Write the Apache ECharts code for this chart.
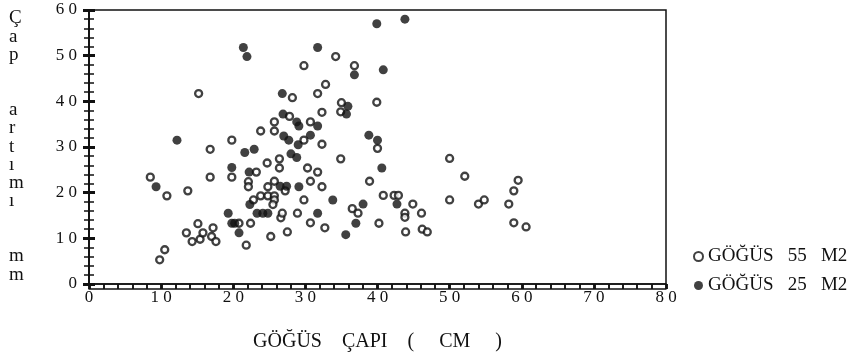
<!DOCTYPE html>
<html>
<head>
<meta charset="utf-8">
<script src="https://cdn.jsdelivr.net/npm/echarts@6/dist/echarts.min.js"></script>
<style>
  html, body { margin: 0; padding: 0; background: #fff; }
  #chart { width: 856px; height: 357px; }
</style>
</head>
<body>
<div id="chart"></div>
<script>
// GÖĞÜS 55 M2 (open circles): [göğüs çapı cm, çap artımı mm]
const open55 = [
  [8.5, 23.4], [10.8, 19.3], [13.7, 20.4], [9.8, 5.3], [10.5, 7.5], [14.3, 9.3],
  [13.5, 11.2], [15.1, 13.2], [15.4, 9.8], [15.8, 11.2], [17.0, 10.4], [17.2, 12.3],
  [17.6, 9.3], [15.2, 41.7], [16.8, 29.5], [16.8, 23.4], [19.8, 31.5], [19.8, 23.4],
  [20.8, 13.3], [21.8, 8.5], [22.4, 13.3], [22.1, 22.4], [22.1, 21.3], [22.8, 18.4],
  [23.2, 24.5], [23.8, 33.5], [23.8, 19.3], [24.7, 26.5], [24.8, 21.3], [24.8, 19.3],
  [25.7, 19.3], [25.7, 22.5], [25.7, 18.4], [25.5, 17.4], [25.7, 33.5], [25.7, 35.5],
  [27.8, 36.7], [26.4, 27.4], [26.4, 25.4], [25.2, 10.4], [26.6, 14.5], [26.8, 15.5],
  [27.2, 20.4], [27.5, 11.4], [28.2, 40.8], [28.9, 15.5], [29.8, 31.5], [29.8, 18.4],
  [30.3, 25.4], [30.7, 35.5], [30.7, 22.5], [30.7, 13.4], [31.7, 41.7], [31.7, 24.5],
  [32.3, 37.6], [32.3, 30.6], [32.3, 21.3], [32.7, 12.3], [32.8, 43.7], [34.2, 49.8],
  [29.8, 47.8], [36.8, 47.8], [35.0, 39.7], [34.9, 37.7], [34.9, 27.4], [36.5, 16.5],
  [37.3, 15.5], [38.9, 22.5], [39.9, 39.8], [40.0, 29.7], [40.2, 13.3], [40.8, 19.4],
  [42.3, 19.4], [42.9, 19.4], [43.8, 15.5], [43.8, 14.6], [43.9, 11.4], [44.9, 17.5],
  [46.1, 15.5], [46.2, 12.0], [46.9, 11.4], [50.0, 27.5], [50.0, 18.4], [52.1, 23.6],
  [54.0, 17.5], [54.8, 18.4], [58.2, 17.5], [58.9, 20.4], [59.5, 22.7], [58.9, 13.4],
  [60.6, 12.5]
]

// GÖĞÜS 25 M2 (filled circles)
const filled25 = [
  [12.2, 31.5], [9.3, 21.3], [21.4, 51.8], [21.9, 49.8], [21.6, 28.8], [22.9, 29.5],
  [19.8, 25.5], [22.2, 24.5], [26.8, 41.7], [26.9, 37.2], [28.8, 35.5], [29.1, 34.6],
  [27.0, 32.4], [27.7, 31.5], [30.7, 32.6], [29.0, 30.5], [28.0, 28.5], [28.8, 27.7],
  [31.7, 34.6], [31.7, 51.8], [36.8, 45.8], [40.8, 46.9], [39.9, 57.0], [43.8, 58.0],
  [35.9, 38.9], [35.7, 37.2], [38.8, 32.6], [40.0, 31.5], [40.6, 25.4], [26.5, 21.4],
  [27.4, 21.4], [29.1, 21.3], [22.3, 17.4], [23.3, 15.5], [24.1, 15.5], [24.8, 15.5],
  [19.3, 15.5], [19.8, 13.3], [20.2, 13.3], [20.8, 11.2], [31.7, 15.5], [33.8, 18.4],
  [38.0, 17.5], [37.0, 13.3], [35.6, 10.8], [42.7, 17.5]
]

const seriesNames = ['GÖĞÜS   55   M2', 'GÖĞÜS   25   M2']
const xRange = [0, 80]
const yRange = [0, 60]

const serif = '"Liberation Serif", "DejaVu Serif", serif'
const ink = '#111'

const gridLeft = 89
const gridRight = 190
const gridTop = 10
const gridBottom = 68
const plotW = 856 - gridLeft - gridRight
const plotH = 357 - gridTop - gridBottom

const chart = echarts.init(document.getElementById('chart'))

const spaced = v => String(v).split('').join(' ')

// the ticks cross the axis line: main axis draws them outside,
// a twin axis moved onto the same line draws the other half
function makeXAxis (twin) {
  return {
    type: 'value',
    min: xRange[0],
    max: xRange[1],
    interval: 10,
    position: twin ? 'top' : 'bottom',
    offset: twin ? -plotH : 0,
    name: twin ? '' : 'GÖĞÜS    ÇAPI    (     CM     )',
    nameLocation: 'middle',
    nameGap: 48,
    nameTextStyle: { fontFamily: serif, fontSize: 20, color: ink },
    axisLine: { show: true, onZero: false, lineStyle: { color: ink, width: 1.5 } },
    axisTick: { show: true, length: 5, lineStyle: { color: ink, width: 2.5 } },
    minorTick: { show: true, splitNumber: 5, length: 5, lineStyle: { color: ink, width: 1.5 } },
    axisLabel: {
      show: !twin,
      margin: 5,
      fontFamily: serif,
      fontSize: 17,
      color: ink,
      formatter: spaced
    },
    splitLine: { show: false },
    minorSplitLine: { show: false }
  }
}

function makeYAxis (twin) {
  return {
    type: 'value',
    min: yRange[0],
    max: yRange[1],
    interval: 10,
    position: twin ? 'right' : 'left',
    offset: twin ? -plotW : 0,
    axisLine: { show: true, onZero: false, lineStyle: { color: ink, width: 1.5 } },
    axisTick: { show: true, length: 6, lineStyle: { color: ink, width: 3 } },
    minorTick: { show: true, splitNumber: 5, length: 5, lineStyle: { color: ink, width: 1.5 } },
    axisLabel: {
      show: !twin,
      margin: 12,
      fontFamily: serif,
      fontSize: 17,
      color: ink,
      formatter: spaced
    },
    splitLine: { show: false },
    minorSplitLine: { show: false }
  }
}

chart.setOption({
  animation: false,
  backgroundColor: '#fff',
  grid: {
    left: gridLeft,
    right: gridRight,
    top: gridTop,
    bottom: gridBottom,
    show: true,
    borderColor: ink,
    borderWidth: 1.5,
    backgroundColor: 'transparent'
  },
  xAxis: [makeXAxis(false), makeXAxis(true)],
  yAxis: [makeYAxis(false), makeYAxis(true)],
  legend: {
    orient: 'vertical',
    left: 688,
    top: 242,
    itemWidth: 9,
    itemHeight: 9,
    itemGap: 10,
    textStyle: { fontFamily: serif, fontSize: 19, color: ink },
    data: seriesNames
  },
  graphic: [{
    type: 'text',
    left: 9,
    top: 9,
    style: {
      text: 'Ç\na\np\n\n\na\nr\nt\nı\nm\nı\n\n\nm\nm',
      font: '19px ' + serif,
      fill: ink,
      lineHeight: 18.3,
      align: 'center'
    }
  }],
  series: [{
    name: seriesNames[0],
    type: 'scatter',
    symbol: 'circle',
    symbolSize: 7,
    itemStyle: { color: '#fff', borderColor: ink, borderWidth: 2.3 },
    data: open55
  }, {
    name: seriesNames[1],
    type: 'scatter',
    symbol: 'circle',
    symbolSize: 9,
    itemStyle: { color: ink },
    data: filled25
  }]
})
</script>
</body>
</html>
